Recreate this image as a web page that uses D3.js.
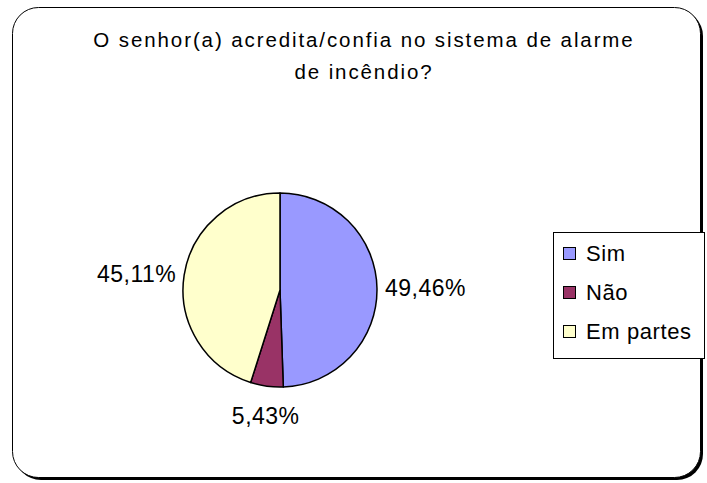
<!DOCTYPE html>
<html><head><meta charset="utf-8">
<script src="https://cdn.jsdelivr.net/npm/d3@7"></script>
<style>body{margin:0;background:#fff}svg{display:block}text{font-family:"Liberation Sans",Arial,sans-serif;fill:#000}</style>
</head><body>
<script>
const categories = ["Sim", "Não", "Em partes"];
const values = [49.46, 5.43, 45.11];
const labels = ["49,46%", "5,43%", "45,11%"];
const colors = ["#9999FF", "#993366", "#FFFFCC"];
const titleLines = ["O senhor(a) acredita/confia no sistema de alarme", "de incêndio?"];

const W = 707, H = 483;
const svg = d3.select("body").append("svg").attr("width", W).attr("height", H);

// frame with shadow
svg.append("rect").attr("x", 15).attr("y", 10).attr("width", 688).attr("height", 470)
  .attr("rx", 26).attr("fill", "#000");
svg.append("rect").attr("x", 12.5).attr("y", 7.5).attr("width", 688).attr("height", 470)
  .attr("rx", 26).attr("fill", "#fff").attr("stroke", "#000").attr("stroke-width", 1);

// title
svg.append("g").selectAll("text").data(titleLines).join("text")
  .attr("x", 364).attr("y", (d, i) => 47 + i * 32)
  .attr("text-anchor", "middle").attr("font-size", 20.5).attr("letter-spacing", 1.9)
  .text(d => d);

const cx = 280, cy = 290, R = 97;
const pie = d3.pie().sort(null).value(d => d)(values);
const arc = d3.arc().innerRadius(0).outerRadius(R);
const g = svg.append("g").attr("transform", `translate(${cx},${cy})`);
g.selectAll("path").data(pie).join("path")
  .attr("d", arc).attr("fill", (d, i) => colors[i])
  .attr("stroke", "#000").attr("stroke-width", 1.5).attr("stroke-linejoin", "round");

g.selectAll("text.lbl").data(pie).join("text").attr("class", "lbl")
  .each(function (d, i) {
    const a = (d.startAngle + d.endAngle) / 2;
    const s = Math.sin(a), c = Math.cos(a);
    const r = 105;
    let x = s * r, y = -c * r;
    let anchor = "middle";
    if (s > 0.5) anchor = "start"; else if (s < -0.5) anchor = "end";
    else { y += (c < 0 ? 22 : -22); }
    d3.select(this).attr("x", x).attr("y", y).attr("dy", "0.35em")
      .attr("text-anchor", anchor).attr("font-size", 23).attr("letter-spacing", 0.5)
      .text(labels[i]);
  });

// legend
const lg = svg.append("g");
lg.append("rect").attr("x", 553.5).attr("y", 232.5).attr("width", 151).attr("height", 126)
  .attr("fill", "#fff").attr("stroke", "#000").attr("stroke-width", 1);
const y = d3.scalePoint().domain(categories).range([253, 331]);
const items = lg.selectAll("g.it").data(categories).join("g").attr("class", "it")
  .attr("transform", d => `translate(0,${y(d)})`);
items.append("rect").attr("x", 563.5).attr("y", -5.5).attr("width", 12).attr("height", 12)
  .attr("fill", (d, i) => colors[i]).attr("stroke", "#000").attr("stroke-width", 1);
items.append("text").attr("x", 586).attr("y", 0).attr("dy", "0.35em")
  .attr("font-size", 22).attr("letter-spacing", 0.6).text(d => d);
</script>
</body></html>
